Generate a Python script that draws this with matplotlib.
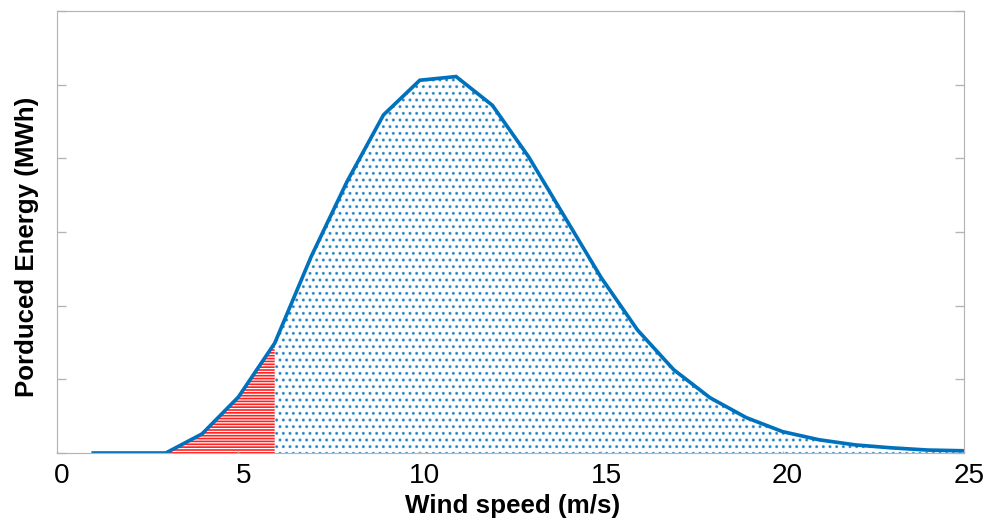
import matplotlib
matplotlib.use('Agg')
import matplotlib.pyplot as plt
import matplotlib.transforms as mtransforms

# wind speed bins (m/s) and produced energy per bin
wind_speed = [1, 2, 3, 4, 5, 6, 7, 8, 9, 10, 11, 12, 13,
              14, 15, 16, 17, 18, 19, 20, 21, 22, 23, 24, 25]
energy = [0.0, 0.0, 0.0, 0.26, 0.76, 1.49, 2.66, 3.69, 4.59, 5.06, 5.11, 4.72, 4.02,
          3.20, 2.38, 1.67, 1.13, 0.75, 0.48, 0.29, 0.18, 0.11, 0.07, 0.04, 0.03]
cut_in = 6  # red part goes up to here
x_ticks = [0, 5, 10, 15, 20, 25]

DPI = 120  # hatch spacing scales with dpi, 120 gives the sparser dots


def main():
    plt.rcParams['font.family'] = ['Liberation Sans', 'DejaVu Sans']
    plt.rcParams['hatch.linewidth'] = 1.0
    blue = '#0072BD'
    gray = '#b4b4b4'

    fig = plt.figure(figsize=(1005 / DPI, 522 / DPI), dpi=DPI)
    ax = fig.add_axes([57 / 1005, 69 / 522, 907 / 1005, 442 / 522])

    # low part, red horizontal lines
    lo_x = [x for x in wind_speed if x <= cut_in]
    lo_y = energy[:len(lo_x)]
    ax.fill_between(lo_x, 0, lo_y, facecolor='none', edgecolor='#ff2020',
                    hatch='-------', linewidth=0)

    # rest, blue dots (a bit see-through so the texture stays light)
    hi_x = [x for x in wind_speed if x >= cut_in]
    hi_y = energy[len(lo_x) - 1:]
    ax.fill_between(hi_x, 0, hi_y, facecolor='none', edgecolor=(0.0, 0.447, 0.741, 0.75),
                    hatch='...', linewidth=0)

    ax.plot(wind_speed, energy, color=blue, linewidth=2.2, solid_joinstyle='miter')

    ax.set_xlim(0, 25)
    ax.set_ylim(0, 6)
    ax.set_xticks(x_ticks)
    ax.set_yticks(range(0, 7))
    ax.set_yticklabels([])
    ax.tick_params(axis='x', direction='in', length=1.5, color=gray,
                   labelsize=16.8, pad=6)
    ax.tick_params(axis='y', direction='in', length=5.4, color=gray,
                   left=True, right=True)
    for s in ax.spines.values():
        s.set_color(gray)
        s.set_linewidth(0.7)

    # tick labels sit a few pixels right of their ticks in the original
    shift = mtransforms.ScaledTranslation(5 / DPI, 0, fig.dpi_scale_trans)
    for lab in ax.get_xticklabels():
        lab.set_transform(lab.get_transform() + shift)

    fig.text(513 / 1005, 1 - 506 / 522, 'Wind speed (m/s)', ha='center', va='center',
             fontsize=15.6, fontweight='bold')
    fig.text(27 / 1005, 1 - 247 / 522, 'Porduced Energy (MWh)', ha='center', va='center',
             rotation=90, fontsize=15.5, fontweight='bold')

    fig.savefig('out.png', dpi=DPI)


if __name__ == "__main__":
    main()
